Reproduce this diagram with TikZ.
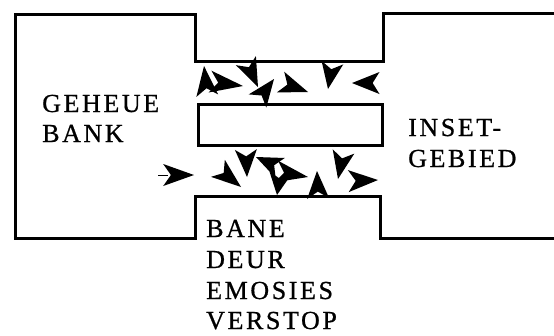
\documentclass[tikz,border=0pt]{standalone}
\usepackage{fontspec}
\usetikzlibrary{calc}
\newfontfamily\lblfont{Liberation Serif}[LetterSpace=10,FakeBold=0.8]
\tikzset{
  wall/.style={line width=3pt, line join=miter, line cap=butt},
  dartfill/.style={fill=black},
  lbl/.style={anchor=base west, inner sep=0pt, text depth=0pt, font=\lblfont\fontsize{26}{30}\selectfont},
}
\newcommand{\mydart}[4]{%
  \coordinate (dT) at (#1,#2);
  \coordinate (dB) at ($(#1,#2)!1.1!(#3,#4)$);
  \fill[dartfill] (dT) -- ($(dB)!11pt!90:(dT)$) -- ($(dB)!0.25!(dT)$) -- ($(dB)!11pt!-90:(dT)$) -- cycle;}
\begin{document}
\begin{tikzpicture}[x=1pt,y=-1pt]
\useasboundingbox (0,0) rectangle (554,335);
% outline
\draw[wall] (556,13) -- (383,13) -- (383,61) -- (195,61) -- (195,14) -- (15,14)
  -- (15,238) -- (195,238) -- (195,196) -- (380,196) -- (380,238) -- (556,238);
% middle block
\draw[wall] (198,104) rectangle (382,145);
% labels
\node[lbl] (gb1) at (42,112) {GEHEUE};
\node[lbl] (gb2) at (42,142) {BANK};
\node[lbl] (ig1) at (408,136) {INSET-};
\node[lbl] (ig2) at (408,167) {GEBIED};
\node[lbl] (b1) at (206,237) {BANE};
\node[lbl] (b2) at (206,268) {DEUR};
\node[lbl] (b3) at (206,299) {EMOSIES};
\node[lbl] (b4) at (206,329) {VERSTOP};
% darts, upper channel
\mydart{204}{66}{207}{93}
\mydart{243}{86}{213}{82}
\mydart{258}{87}{247}{63}
\mydart{274}{79}{259}{99}
\mydart{308}{92}{283}{83}
\mydart{328}{89}{332}{65}
\mydart{352}{83}{377}{83}
% darts, lower channel
\draw[line width=0.4pt] (158,175) -- (168,175);
\mydart{194}{175}{166}{175}
\mydart{241}{187}{220}{170}
\mydart{247}{177}{246}{152}
\mydart{256}{157}{278}{167}
\mydart{308}{177}{279}{172}
\mydart{277}{195}{280}{175}
\mydart{317}{171}{318}{196}
\mydart{338}{179}{343}{154}
\mydart{378}{180}{351}{181}
\end{tikzpicture}
\end{document}
